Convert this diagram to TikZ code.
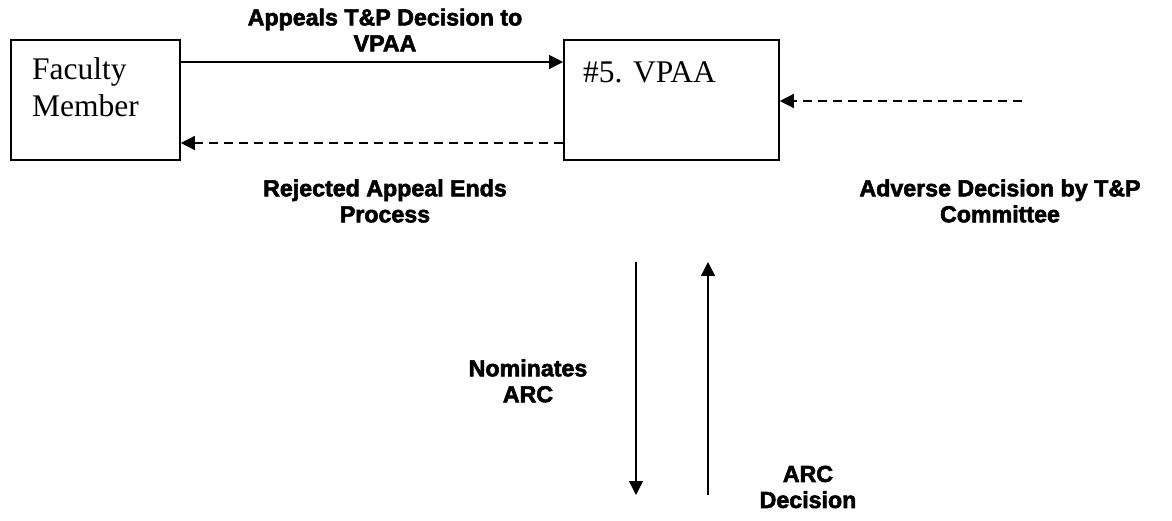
\documentclass[tikz,border=0pt]{standalone}
\usepackage{fontspec}
\setmainfont{Liberation Serif}
\newfontfamily\lblfont{Liberation Sans}[BoldFeatures={FakeBold=2.5}]
\usetikzlibrary{arrows.meta}
\tikzset{
  box/.style={draw, line width=1.8pt, inner sep=0pt},
  boxtext/.style={font=\fontsize{31.5}{37}\selectfont, align=left, anchor=north west, inner sep=0pt},
  lbl/.style={font=\lblfont\bfseries\fontsize{23.2}{26}\selectfont, align=center, inner sep=0pt},
  conn/.style={line width=1.4pt, -{Triangle[length=14pt,width=14pt]}},
  dconn/.style={conn, dash pattern=on 9pt off 6pt}
}
\begin{document}
\begin{tikzpicture}[x=1pt,y=-1pt]
\useasboundingbox (0,0) rectangle (1172,521);
% boxes
\node[box, minimum width=169pt, minimum height=120pt, anchor=north west] (fac) at (10,39) {};
\node[boxtext] (factxt) at (32,57) {Faculty\\Member};
\node[box, minimum width=215pt, minimum height=120pt, anchor=north west] (vpaa) at (563,39) {};
\node[boxtext] (vpaatxt) at (583,62) {\#5. VPAA};
% coordinates
\coordinate (adv) at (1022,101);
\coordinate (nomtop) at (636,262);
\coordinate (nombot) at (636,495);
\coordinate (arcbot) at (708,495);
\coordinate (arctop) at (708,262);
% connectors
\draw[conn] (fac.east |- 0,62) -- (vpaa.west |- 0,62);
\draw[dconn] (vpaa.west |- 0,143) -- (fac.east |- 0,143);
\draw[dconn] (adv) -- (vpaa.east |- adv);
\draw[conn] (nomtop) -- (nombot);
\draw[conn] (arcbot) -- (arctop);
% labels
\node[lbl] (l1) at (385,30) {Appeals T\&P Decision to\\VPAA};
\node[lbl] (l2) at (385,201) {Rejected Appeal Ends\\Process};
\node[lbl] (l3) at (1000,201) {Adverse Decision by T\&P\\Committee};
\node[lbl] (l4) at (528,381) {Nominates\\ARC};
\node[lbl] (l5) at (808,487) {ARC\\Decision};
\end{tikzpicture}
\end{document}
